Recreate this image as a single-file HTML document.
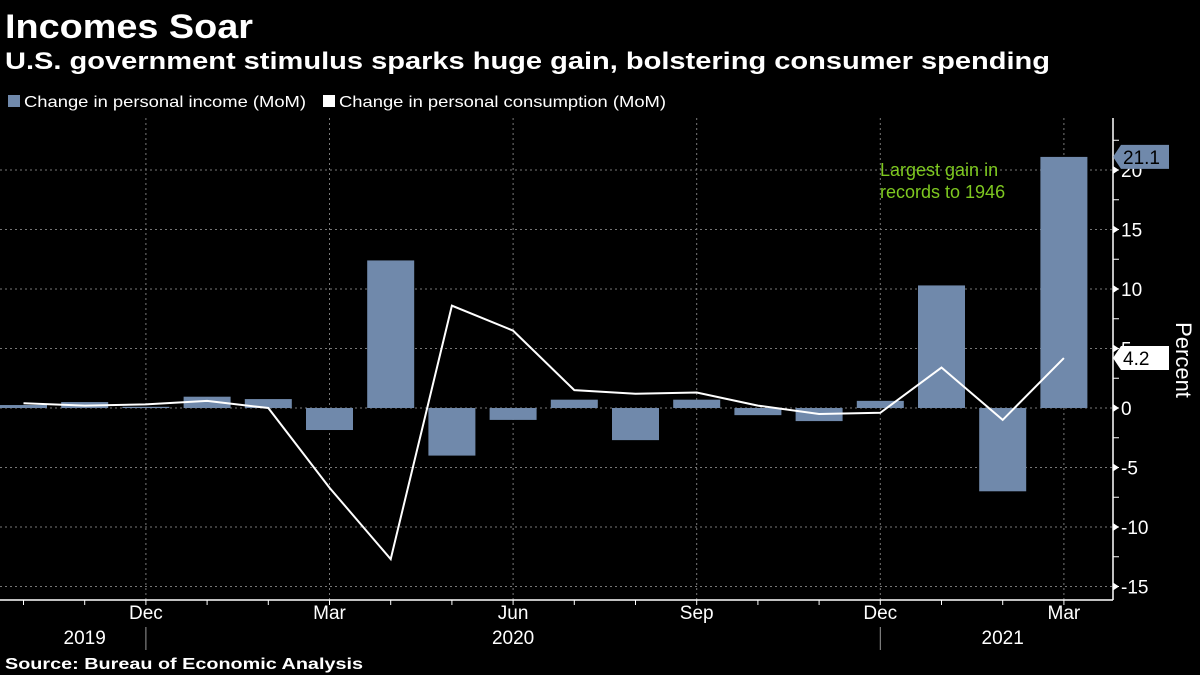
<!DOCTYPE html>
<html><head><meta charset="utf-8"><style>
html,body{margin:0;padding:0;background:#000;}
svg{display:block;font-family:"Liberation Sans","DejaVu Sans",sans-serif;}
</style></head><body>
<svg id="chart" width="1200" height="675" viewBox="0 0 1200 675">
<rect width="1200" height="675" fill="#000"/>
<text x="5" y="38" fill="#fff" font-size="34" font-weight="bold" textLength="248" lengthAdjust="spacingAndGlyphs">Incomes Soar</text>
<text x="5" y="69" fill="#fff" font-size="24" font-weight="bold" textLength="1045" lengthAdjust="spacingAndGlyphs">U.S. government stimulus sparks huge gain, bolstering consumer spending</text>
<g>
<rect x="8" y="95" width="12" height="12" fill="#7089ab"/>
<text x="24" y="107" fill="#fff" font-size="16" textLength="282" lengthAdjust="spacingAndGlyphs">Change in personal income (MoM)</text>
<rect x="323" y="95" width="12" height="12" fill="#fff"/>
<text x="339" y="107" fill="#fff" font-size="16" textLength="327" lengthAdjust="spacingAndGlyphs">Change in personal consumption (MoM)</text>
</g>
<g id="grid"></g>
<g id="bars"></g>
<g id="line"></g>
<g id="axes"></g>
<text x="880" y="176" fill="#7ec820" font-size="18">Largest gain in</text>
<text x="880" y="198" fill="#7ec820" font-size="18">records to 1946</text>
<text transform="translate(1176,360) rotate(90)" fill="#fff" font-size="22" text-anchor="middle">Percent</text>
<text x="5" y="669" fill="#fff" font-size="16" font-weight="bold" textLength="358" lengthAdjust="spacingAndGlyphs">Source: Bureau of Economic Analysis</text>
</svg>
<script>
const months = ["Oct","Nov","Dec","Jan","Feb","Mar","Apr","May","Jun","Jul","Aug","Sep","Oct","Nov","Dec","Jan","Feb","Mar"];
const income = [0.25,0.5,0.1,0.95,0.75,-1.85,12.4,-4.0,-1.0,0.7,-2.7,0.7,-0.6,-1.1,0.6,10.3,-7.0,21.1];
const consumption = [0.4,0.2,0.3,0.6,0.0,-6.7,-12.7,8.6,6.5,1.5,1.2,1.3,0.2,-0.5,-0.4,3.4,-1.0,4.2];
const yTicks = [-15,-10,-5,0,5,10,15,20];
const monthLabels = [[2,"Dec"],[5,"Mar"],[8,"Jun"],[11,"Sep"],[14,"Dec"],[17,"Mar"]];
const yearLabels = [[1,"2019"],[8,"2020"],[16,"2021"]];

const NS="http://www.w3.org/2000/svg";
const X0=23.5, STEP=61.2, BW=47, Y0=408, SC=11.9, AXX=1113;
const xs=i=>X0+i*STEP;
const ys=v=>Y0-v*SC;
function mk(tag,attrs,parent){const e=document.createElementNS(NS,tag);for(const k in attrs)e.setAttribute(k,attrs[k]);parent.appendChild(e);return e;}
const grid=document.getElementById('grid'),bars=document.getElementById('bars'),line=document.getElementById('line'),axes=document.getElementById('axes');

yTicks.forEach(t=>{
  const g=mk('line',{x1:0,x2:AXX,y1:ys(t),y2:ys(t),stroke:'#777','stroke-dasharray':'2,3','stroke-width':1},grid);
  
  
  const tk=mk('path',{d:`M${AXX} ${ys(t)-4}L${AXX+6} ${ys(t)}L${AXX} ${ys(t)+4}Z`,fill:'#fff'},axes);
  
  
  const lb=mk('text',{x:AXX+8,y:ys(t)+7,fill:'#fff','font-size':19},axes);
  lb.textContent=String(t);
  
  
});
for(let v=-15;v<=22.5;v+=2.5){
  const m=mk('line',{x1:AXX,x2:AXX+6,y1:ys(v),y2:ys(v),stroke:'#fff'},axes);
  
  
}
monthLabels.forEach(([i,l])=>{
  const g=mk('line',{x1:xs(i),x2:xs(i),y1:118,y2:600,stroke:'#777','stroke-dasharray':'2,3'},grid);
  
  
  const t=mk('text',{x:xs(i),y:619,fill:'#fff','font-size':19,'text-anchor':'middle'},axes);
  t.textContent=l;
  
  
});
yearLabels.forEach(([i,l])=>{
  const t=mk('text',{x:xs(i),y:644,fill:'#fff','font-size':19,'text-anchor':'middle'},axes);
  t.textContent=l;
  
  
});
[2,14].forEach(i=>{
  const s=mk('line',{x1:xs(i),x2:xs(i),y1:627,y2:650,stroke:'#999'},axes);
  
  
});
const ax=mk('line',{x1:0,x2:AXX,y1:600,y2:600,stroke:'#fff','stroke-width':1.5},axes);


const ay=mk('line',{x1:AXX,x2:AXX,y1:118,y2:600,stroke:'#fff','stroke-width':1.5},axes);


months.forEach((m,i)=>{
  const t=mk('line',{x1:xs(i),x2:xs(i),y1:600,y2:605,stroke:'#fff'},axes);
  
  
});
income.forEach((v,i)=>{
  const y=Math.min(ys(v),Y0),h=Math.max(Math.abs(v*SC),1);
  const b=mk('rect',{x:Math.max(0,xs(i)-BW/2),y:y,width:BW-(xs(i)-BW/2<0?BW/2-xs(i):0),height:h,fill:'#7089ab'},bars);
  
  
});
const pl=mk('polyline',{points:consumption.map((v,i)=>xs(i)+','+ys(v)).join(' '),fill:'none',stroke:'#fff','stroke-width':2},line);


function callout(v,bg,fg,name){
  const y=ys(v);
  const p=mk('path',{d:`M${AXX} ${y}L${AXX+8} ${y-12}L${AXX+56} ${y-12}L${AXX+56} ${y+12}L${AXX+8} ${y+12}Z`,fill:bg},axes);
  
  
  const t=mk('text',{x:AXX+10,y:y+7,fill:fg,'font-size':19},axes);
  t.textContent=v.toFixed(1);
  
  
}
callout(income[income.length-1],'#7089ab','#000','income-last-value');
callout(consumption[consumption.length-1],'#fff','#000','consumption-last-value');
</script>
</body></html>
